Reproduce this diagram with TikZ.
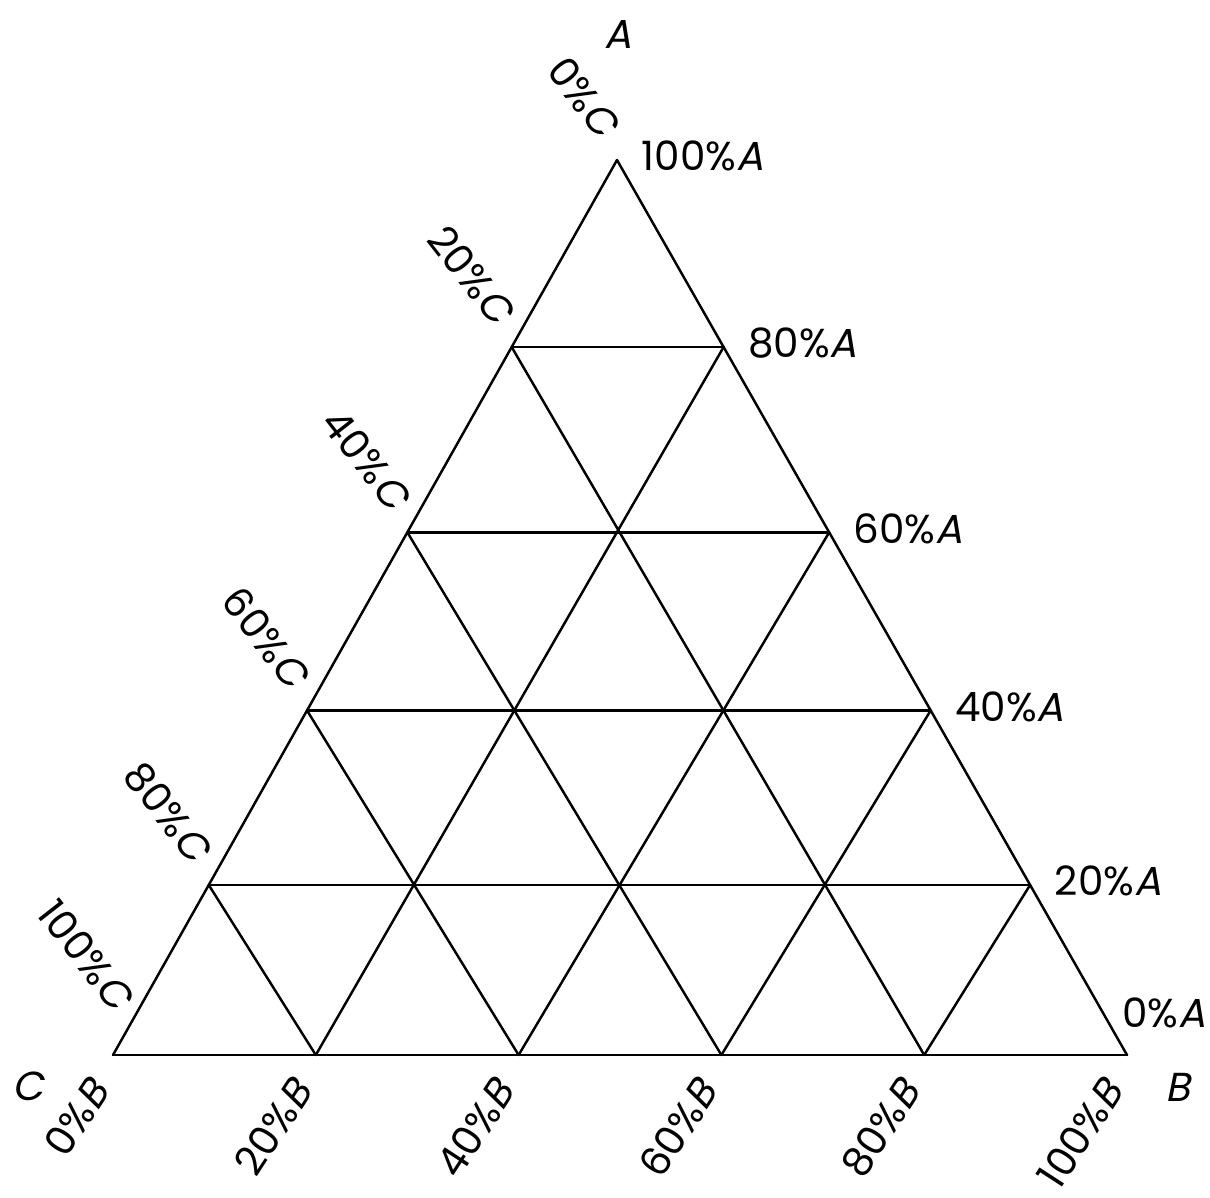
\documentclass[tikz,border=0pt]{standalone}
\usepackage{fontspec}
\setmainfont{Poppins}
\newfontface\slfont{Poppins}[FakeSlant=0.2]
\newcommand{\pc}[2]{#1\%{\slfont #2}}

\begin{document}
\begin{tikzpicture}[x=0.01cm,y=-0.01cm]
\tikzset{grid/.style={line width=0.7pt,line cap=round},
         lab/.style={inner sep=0pt,font=\fontsize{11.5}{14}\selectfont},
         labA/.style={lab,anchor=west},
         labB/.style={lab,rotate=57,anchor=east},
         labC/.style={lab,rotate=-52,anchor=east}}
\useasboundingbox (0,0) rectangle (1210,1197);
\foreach \i/\t in {0/0,1/0.19,2/0.385,3/0.584,4/0.791}
  \foreach \j in {0,...,5}{
    \pgfmathsetmacro\s{\j/(5-\i)*(1-\t)}
    \coordinate (p\i\j) at ({113+504*\t+1014*\s},{1055-895*\t});
  }
\coordinate (p50) at (617,160);
\foreach \k in {0,...,4}{
  \pgfmathtruncatemacro\m{5-\k}
  \draw[grid] (p\k0) -- (p\k\m);
  \draw[grid] (p0\k) -- (p\m\k);
  \draw[grid] (p0\m) -- (p\m0);
}
\foreach \k in {1,...,5}{
  \pgfmathtruncatemacro\m{5-\k}
  \pgfmathtruncatemacro\v{20*\k}
  \node[labA] (a\k) at ([shift={(24,-4)}]p\k\m) {\pc{\v}{A}};
}
\node[lab] (a0) at (1164,1013) {\pc{0}{A}};
\foreach \i in {1,...,5}{
  \pgfmathtruncatemacro\v{100-20*\i}
  \node[labC] (c\i) at ([shift={(-6,-28)}]p\i0) {\pc{\v}{C}};
}
\node[labC] (c0) at ([shift={(12,-50)}]p00) {\pc{100}{C}};
\foreach \j in {0,...,5}{
  \pgfmathtruncatemacro\v{20*\j}
  \node[labB] (b\j) at ([shift={(-14,28)}]p0\j) {\pc{\v}{B}};
}
\node[lab] (ta) at (618,34) {\slfont A};
\node[lab] (tb) at (1178,1087) {\slfont B};
\node[lab] (tc) at (28,1086) {\slfont C};
\end{tikzpicture}
\end{document}
